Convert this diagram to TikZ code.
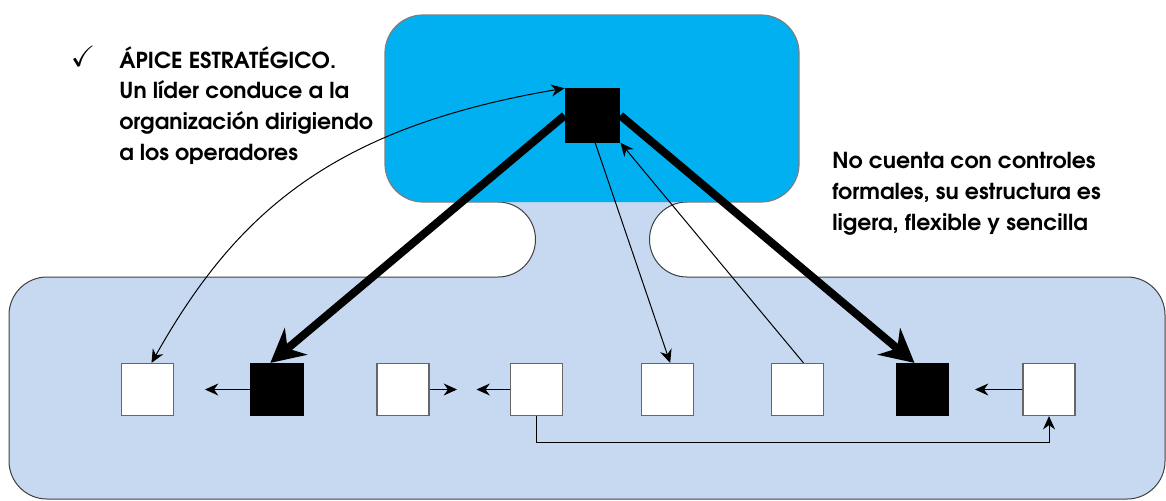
\documentclass[tikz,border=0pt]{standalone}
\usepackage{amssymb}
\usepackage{fontspec}
\newfontfamily\advfont{texgyreadventor-regular.otf}[BoldFont=texgyreadventor-bold.otf]
\usetikzlibrary{arrows.meta,calc}
\definecolor{topblue}{HTML}{00B0F0}
\definecolor{lowblue}{HTML}{C6D9F1}
\definecolor{edgegray}{HTML}{404040}
\definecolor{topedge}{HTML}{7F7F7F}
\begin{document}
\begin{tikzpicture}[x=0.75pt,y=0.75pt,yscale=-1,
  unitbox/.style={draw=edgegray!80,line width=0.9pt,fill=white,minimum width=39pt,minimum height=39pt,inner sep=0pt},
  bossbox/.style={unitbox,fill=black,draw=black},
  thinarrow/.style={line width=0.75pt,-{Stealth[length=10pt,width=9pt]}},
  thickarrow/.style={line width=6pt,-{Stealth[length=25pt,width=26pt]}},
  textlabel/.style={font=\advfont\bfseries\fontsize{16.5}{22.9}\selectfont,align=left,inner sep=0pt,anchor=base west}
]
\useasboundingbox (0,0) rectangle (1166,500);
% lower shape with neck
\path[fill=lowblue,draw=edgegray,line width=0.75pt]
 (687,202) arc[start angle=270,end angle=90,radius=28.125pt]
 -- (1127,277) arc[start angle=270,end angle=360,radius=28.5pt]
 -- (1165,461) arc[start angle=0,end angle=90,radius=28.5pt]
 -- (47,499) arc[start angle=90,end angle=180,radius=28.5pt]
 -- (9,315) arc[start angle=180,end angle=270,radius=28.5pt]
 -- (498,277) arc[start angle=90,end angle=-90,radius=28.125pt];
% top box
\fill[topblue,rounded corners=28.5pt] (385,15) rectangle (799,202);
\draw[topedge,line width=0.9pt]
 (498,202) -- (423,202) arc[start angle=90,end angle=180,radius=28.5pt]
 -- (385,53) arc[start angle=180,end angle=270,radius=28.5pt]
 -- (761,15) arc[start angle=270,end angle=360,radius=28.5pt]
 -- (799,164) arc[start angle=0,end angle=90,radius=28.5pt]
 -- (687,202);
% nodes
\node[bossbox,minimum width=41pt,minimum height=40pt] (top) at (592.5,115.5) {};
\node[unitbox] (b1) at (147.5,389.5) {};
\node[bossbox] (b2) at (277,389.5) {};
\node[unitbox] (b3) at (403,389.5) {};
\node[unitbox] (b4) at (536.5,389.5) {};
\node[unitbox] (b5) at (667.5,389.5) {};
\node[unitbox] (b6) at (797.5,389.5) {};
\node[bossbox] (b7) at (922.5,389.5) {};
\node[unitbox] (b8) at (1049,389.5) {};
\coordinate (a2) at (205,389.5);
\coordinate (a3) at (457,389.5);
\coordinate (a4) at (476.5,389.5);
\coordinate (a8) at (975,389.5);
% connectors
\draw[thinarrow] (b2.west) -- (a2);
\draw[thinarrow] (b3.east) -- (a3);
\draw[thinarrow] (b4.west) -- (a4);
\draw[thinarrow] (b8.west) -- (a8);
\draw[thinarrow] (b4.south) -- ++(0,26) -| (b8.south);
\draw[thickarrow] (top.west) -- ([xshift=-5pt]b2.north);
\draw[thickarrow] (top.east) -- ([xshift=-6pt]b7.north);
\draw[thinarrow] ([xshift=2pt]top.south) -- ([xshift=2pt]b5.north);
\draw[thinarrow] ([xshift=4.5pt]b6.north) -- (top.south east);
\draw[line width=0.75pt,{Stealth[length=10pt,width=9pt]}-{Stealth[length=10pt,width=9pt]}]
 ([xshift=3pt]b1.north) .. controls (235,215) and (330,128) .. (top.north west);
% texts
\node[font=\fontsize{22}{24}\selectfont,inner sep=0pt] (chk) at (83,56) {$\checkmark$};
\node[textlabel] (ltext) at (119,160) {ÁPICE ESTRATÉGICO.\\Un líder conduce a la\\organización dirigiendo\\a los operadores};
\node[textlabel] (rtext) at (832,230) {No cuenta con controles\\formales, su estructura es\\ligera, flexible y sencilla};
\end{tikzpicture}
\end{document}
